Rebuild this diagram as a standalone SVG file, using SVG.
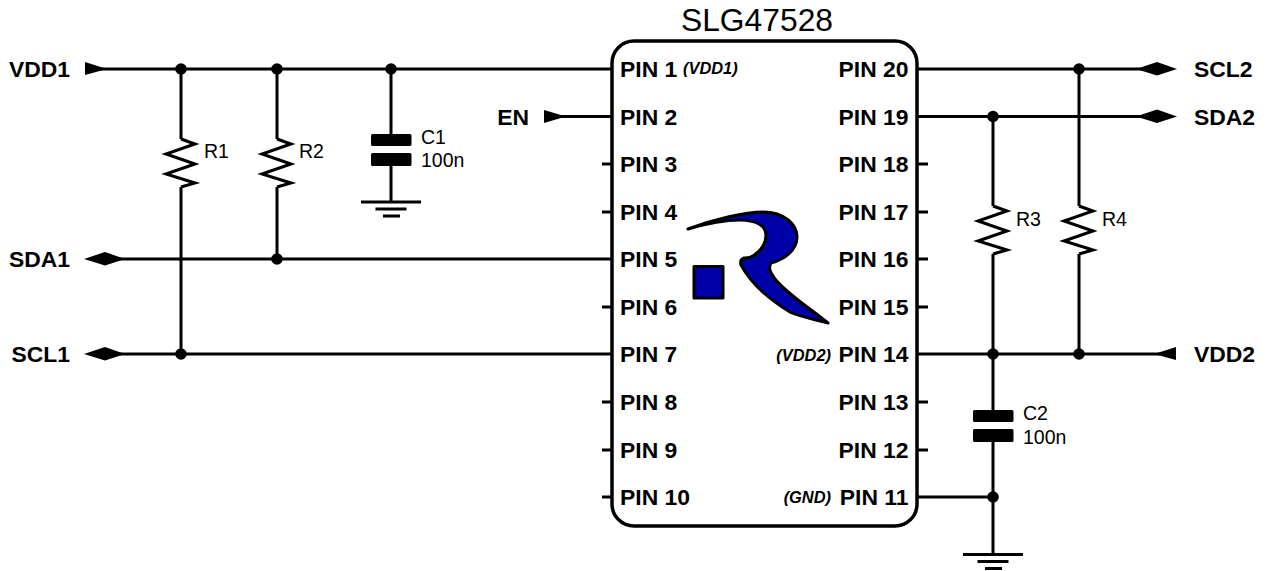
<svg xmlns="http://www.w3.org/2000/svg" width="1266" height="571" viewBox="0 0 1266 571">
<style>
.w{fill:none;stroke:#000;stroke-width:3}
.g{fill:none;stroke:#000;stroke-width:3}
.d{fill:#000}
.b{font:bold 22.9px "Liberation Sans",Arial,sans-serif;fill:#000}
.r{font:19.5px "Liberation Sans",Arial,sans-serif;fill:#000}
.i{font:italic bold 16.400px "Liberation Sans",Arial,sans-serif;fill:#000}
.e{text-anchor:end}
</style>
<defs>
<path id="res" class="w" d="M0 0L14 5L-15 15L14 25L-15 35L14 44L0 48"/>
<path id="cap" class="d" d="M-20 1.5a1.500 1.500 0 0 1 1.500-1.500H19a1.500 1.500 0 0 1 1.500 1.500V10.500a1.500 1.500 0 0 1-1.500 1.500H-18.500a1.500 1.500 0 0 1-1.500-1.500ZM-20 20.500a1.500 1.500 0 0 1 1.500-1.500H19a1.500 1.500 0 0 1 1.500 1.500V30.500a1.500 1.500 0 0 1-1.500 1.500H-18.500a1.500 1.500 0 0 1-1.500-1.500Z"/>
<path id="gnd" class="g" d="M-30 0H30M-15.500 7H15.500M-8 14H9"/>
<path id="bi" class="d" d="M0 0L21-7L41 0L21 6.500Z"/>
</defs>
<g id="connectors">
<path class="w" d="M100 69H612M181 69V139M181 187V354M277 69V139M277 187V259M391 69V134M391 165V202M110 259H612M110 354H612M555 116.500H612"/>
<path class="w" d="M602 164H612M602 212H612M602 307H612M602 402H612M602 450H612M602 497H612"/>
<path class="w" d="M917 69H1150M917 116.500H1150M917 354H1160M917 497H993M993 116.500V206M993 254V410M993 442V554M1079 69V206M1079 254V354"/>
<path class="w" d="M917 164H928M917 212H928M917 259H928M917 307H928M917 402H928M917 450H928"/>
<g class="d">
<circle cx="181" cy="69" r="5.800"/><circle cx="277" cy="69" r="5.800"/><circle cx="391" cy="69" r="5.800"/>
<circle cx="277" cy="259" r="5.800"/><circle cx="181" cy="354" r="5.800"/>
<circle cx="1079" cy="69" r="5.800"/><circle cx="993" cy="116.500" r="5.800"/>
<circle cx="993" cy="354" r="5.800"/><circle cx="1079" cy="354" r="5.800"/><circle cx="993" cy="497" r="5.800"/>
</g>
</g>
<g id="chip">
<rect x="612" y="41" width="305" height="485" rx="22" fill="#fff" stroke="#000" stroke-width="3.500"/>
<text x="757" y="31" text-anchor="middle" style="font:31.800px 'Liberation Sans',Arial,sans-serif">SLG47528</text>
<text class="b" x="620" y="77">PIN 1</text>
<text class="b" x="620" y="125">PIN 2</text>
<text class="b" x="620" y="172">PIN 3</text>
<text class="b" x="620" y="220">PIN 4</text>
<text class="b" x="620" y="267">PIN 5</text>
<text class="b" x="620" y="315">PIN 6</text>
<text class="b" x="620" y="362">PIN 7</text>
<text class="b" x="620" y="410">PIN 8</text>
<text class="b" x="620" y="458">PIN 9</text>
<text class="b" x="620" y="505">PIN 10</text>
<text class="b e" x="908.500" y="77">PIN 20</text>
<text class="b e" x="908.500" y="125">PIN 19</text>
<text class="b e" x="908.500" y="172">PIN 18</text>
<text class="b e" x="908.500" y="220">PIN 17</text>
<text class="b e" x="908.500" y="267">PIN 16</text>
<text class="b e" x="908.500" y="315">PIN 15</text>
<text class="b e" x="908.500" y="362">PIN 14</text>
<text class="b e" x="908.500" y="410">PIN 13</text>
<text class="b e" x="908.500" y="458">PIN 12</text>
<text class="b e" x="908.500" y="505">PIN 11</text>
<text class="i" x="683" y="74">(VDD1)</text>
<text class="i e" x="831" y="361">(VDD2)</text>
<text class="i e" x="831" y="503">(GND)</text>
</g>
<g id="logo" fill="#0000a8" stroke="#000" stroke-width="3" stroke-linejoin="round">
<rect x="694" y="266.500" width="29" height="31.500"/>
<path d="M688 229C715 219 745 212 763 212C785 212 797 225 797 237C797 250 785 259 771 263C768 268 770 272 775 279C788 295 810 308 828 323C812 319 800 316 790 312C770 300 752 285 741 265C740 261 741 259 744 258C754 259 766 247 766 235C766 225 755 220 740 220C725 220 705 224 688 229Z"/>
</g>
<g id="VDD1"><path class="d" d="M85 62L107 69L85 75Z"/><text class="b e" x="70" y="77">VDD1</text></g>
<g id="EN"><path class="d" d="M544 110L566 116.500L544 123Z"/><text class="b e" x="529" y="125">EN</text></g>
<g id="SDA1"><use href="#bi" x="84" y="259"/><text class="b e" x="70" y="267">SDA1</text></g>
<g id="SCL1"><use href="#bi" x="84" y="354"/><text class="b e" x="70" y="362">SCL1</text></g>
<g id="SCL2"><use href="#bi" x="1136" y="69"/><text class="b" x="1194" y="77">SCL2</text></g>
<g id="SDA2"><use href="#bi" x="1136" y="116.500"/><text class="b" x="1194" y="125">SDA2</text></g>
<g id="VDD2"><path class="d" d="M1176 347L1154 354L1176 360Z"/><text class="b" x="1194" y="362">VDD2</text></g>
<g id="R1"><use href="#res" x="181" y="139"/><text class="r" x="204" y="158">R1</text></g>
<g id="R2"><use href="#res" x="277" y="139"/><text class="r" x="299" y="158">R2</text></g>
<g id="R3"><use href="#res" x="993" y="206"/><text class="r" x="1016" y="226">R3</text></g>
<g id="R4"><use href="#res" x="1079" y="206"/><text class="r" x="1102" y="226">R4</text></g>
<g id="C1"><use href="#cap" x="391" y="134"/><text class="r" x="421" y="144">C1</text><text class="r" x="421" y="167">100n</text></g>
<g id="C2"><use href="#cap" x="993" y="410"/><text class="r" x="1023" y="420">C2</text><text class="r" x="1023" y="444">100n</text></g>
<g id="GND1"><use href="#gnd" x="391" y="202"/></g>
<g id="GND2"><use href="#gnd" x="993" y="554.500"/></g>
</svg>
